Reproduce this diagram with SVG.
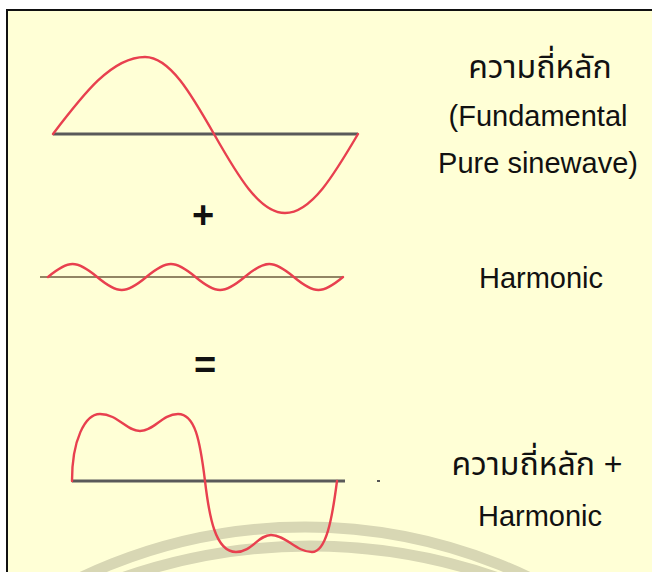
<svg xmlns="http://www.w3.org/2000/svg" width="652" height="572" viewBox="0 0 652 572">
<style>
.bg{fill:#FFFFD6}
.frame{stroke:#111;stroke-width:2;fill:none}
.wm{fill:none;stroke:#D8D7B4;stroke-width:11}
.axis{stroke:#5a5a5a;stroke-width:3;fill:none}
.axis2{stroke:#6e5c3e;stroke-width:1.6;fill:none}
.wave{fill:none;stroke:#E8404F;stroke-width:2.4;stroke-linejoin:round;stroke-linecap:round}
.lbl{font-family:"Liberation Sans","Noto Sans Thai","Noto Sans",Arial,sans-serif;font-size:29px;fill:#111;text-anchor:middle}
.th{font-size:32px}
.op{font-family:"Liberation Sans",Arial,sans-serif;font-weight:bold;font-size:38px;fill:#111;text-anchor:middle}
</style>
<rect width="652" height="572" fill="#ffffff"/>
<rect class="bg" x="7" y="10" width="645" height="562"/>
<g id="watermark">
<circle class="wm" cx="305" cy="1049" r="522"/>
<circle class="wm" cx="310" cy="1115" r="569"/>
</g>
<path class="frame" d="M7,572 V10 H652"/>
<g id="fundamental">
<line class="axis" x1="53" y1="134" x2="358" y2="134"/>
<path class="wave" d="M53,134 C83,94.6 111.7,57 145,57 C170,57 191.5,94.6 214,134 C237,174.5 259.3,213 285,213 C311.4,213 334.2,174.5 358,134"/>
</g>
<g id="plus"><text class="op" x="203" y="228">+</text></g>
<g id="harmonic">
<line class="axis2" x1="40" y1="277" x2="343" y2="277"/>
<path class="wave" d="M48,277 C68.65,259.7 76.52,259.7 97.17,277 S125.68,294.3 146.33,277 S174.85,259.7 195.5,277 S224.02,294.3 244.67,277 S273.18,259.7 293.83,277 S322.35,294.3 343,277"/>
</g>
<g id="equals"><text class="op" x="205" y="378">=</text></g>
<g id="combined">
<line class="axis" x1="72" y1="481" x2="345" y2="481"/>
<path class="wave" d="M72,481 C72,440 85,414 100,414 C118,414 126,431 140,431 C154,431 162,414 178,414 C195,414 200,440 205,481 C209,515 215,552 236,552 C252,552 258,535 271,535 C286,535 296,552 312,552 C326,552 332,520 337,481"/>
<rect x="377" y="480" width="3" height="2" fill="#555"/>
</g>
<g id="label-fundamental">
<text class="lbl th" x="540" y="78">ความถี่หลัก</text>
<text class="lbl" x="538" y="126">(Fundamental</text>
<text class="lbl" x="538" y="173">Pure sinewave)</text>
</g>
<g id="label-harmonic">
<text class="lbl" x="541" y="288">Harmonic</text>
</g>
<g id="label-combined">
<text class="lbl th" x="537" y="475">ความถี่หลัก +</text>
<text class="lbl" x="540" y="526">Harmonic</text>
</g>
</svg>
